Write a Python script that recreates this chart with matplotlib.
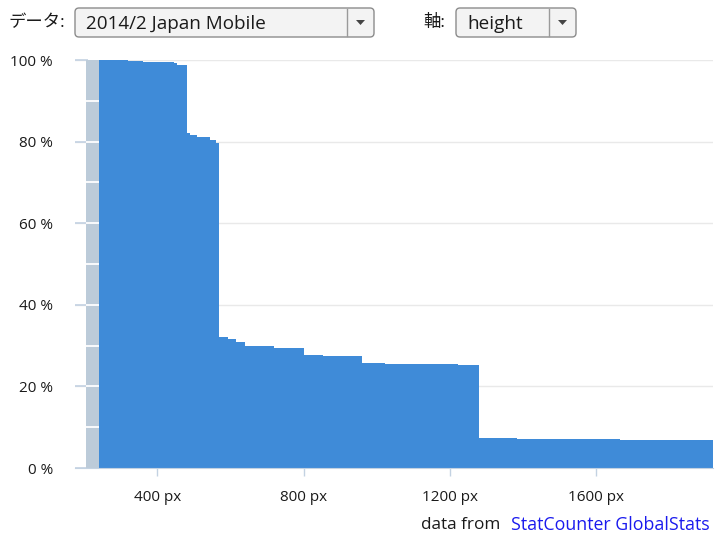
import matplotlib
matplotlib.use("Agg")
import matplotlib.pyplot as plt
from matplotlib.patches import FancyBboxPatch, Polygon

plt.rcParams['font.family'] = ['Open Sans', 'Noto Sans CJK JP', 'DejaVu Sans']

# ---- data (screen height in px -> % of screens with height >= value) ----
heights = [240, 320, 360, 447, 455, 480, 489, 508, 543, 560, 568, 593, 614, 640,
           720, 800, 854, 960, 1024, 1136, 1222, 1280, 1384, 1521, 1666]
percent = [99.9, 99.7, 99.5, 99.2, 98.8, 82.0, 81.5, 81.2, 80.5, 79.6, 32.1, 31.5,
           30.8, 29.85, 29.5, 27.8, 27.4, 25.7, 25.6, 25.4, 25.3, 7.45, 7.2, 7.0, 6.95]
x_max = 1920
x_min = 175
band = (206, 240)
xticks = [400, 800, 1200, 1600]
yticks = [0, 20, 40, 60, 80, 100]
minor_y = [10, 20, 30, 40, 50, 60, 70, 80, 90]

BLUE = '#3f8bd8'
BAND = '#bccbd9'
AXC = '#c3d2e2'
TXT = '#1a1a1a'

fig = plt.figure(figsize=(7.2, 5.4), dpi=100)
ax = fig.add_axes([75/720, 1-468/540, (713-75)/720, (468-60)/540])

ax.axvspan(band[0], band[1], color=BAND, lw=0, zorder=1)
ax.hlines(minor_y, band[0], band[1], color='white', lw=1.3, zorder=2)

edges = heights + [x_max]
vals = percent + [percent[-1]]
ax.fill_between(edges, vals, 0, step='post', color=BLUE, lw=0, zorder=3)

ax.set_xlim(x_min, x_max)
ax.set_ylim(0, 100)
ax.set_yticks(yticks)
ax.set_yticklabels([f"{v} %" for v in yticks])
ax.set_xticks(xticks)
ax.set_xticklabels([f"{v} px" for v in xticks])
ax.grid(axis='y', color='#e9e9e9', lw=1, zorder=0)
ax.set_axisbelow(True)
for s in ['top', 'right', 'left']:
    ax.spines[s].set_visible(False)
ax.spines['bottom'].set_color(AXC)
ax.spines['bottom'].set_zorder(4)
ax.tick_params(axis='y', direction='in', length=9, width=1.2, color=AXC,
               pad=16, labelsize=11, labelcolor=TXT)
ax.tick_params(axis='x', direction='out', length=6, width=1, color=AXC,
               pad=10, labelsize=11, labelcolor=TXT)

# ---- overlay for the UI controls and credits ----
ov = fig.add_axes([0, 0, 1, 1], zorder=10)
ov.set_xlim(0, 720)
ov.set_ylim(540, 0)
ov.axis('off')
ov.patch.set_alpha(0)

def dropdown(x0, x1, label):
    ov.add_patch(FancyBboxPatch((x0, 8), x1-x0, 29,
                                boxstyle='round,pad=0,rounding_size=4',
                                fc='#f3f3f3', ec='#8c8c8c', lw=1))
    ov.plot([x1-27, x1-27], [9, 36], color='#9a9a9a', lw=1)
    cx = x1 - 13.5
    ov.add_patch(Polygon([(cx-4.5, 20), (cx+4.5, 20), (cx, 25)], closed=True,
                         fc='#444444', ec='none'))
    ov.text(x0+11, 24, label, fontsize=13.6, va='center', ha='left', color=TXT)

ov.text(8, 23, 'データ:', fontsize=12.5, va='center', ha='left', color=TXT)
dropdown(75, 374, '2014/2 Japan Mobile')
ov.text(423, 23, '軸:', fontsize=12.5, va='center', ha='left', color=TXT)
dropdown(456, 576, 'height')

ov.text(500, 525, 'data from', fontsize=12.3, va='center', ha='right', color=TXT)
ov.text(511, 525, 'StatCounter GlobalStats', fontsize=12.8, va='center', ha='left',
        color='#1a1aee')

fig.savefig('out.png', dpi=100)
